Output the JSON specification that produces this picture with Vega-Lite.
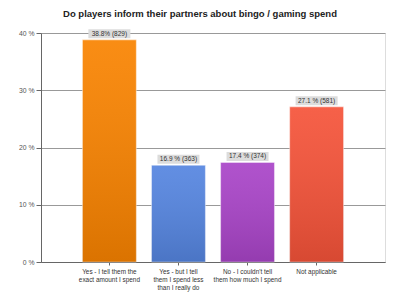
{
  "$schema": "https://vega.github.io/schema/vega-lite/v6.json",
  "width": 344,
  "height": 229,
  "autosize": {"type": "none"},
  "padding": {"left": 41, "top": 33, "right": 15, "bottom": 38},
  "background": "white",
  "title": {
    "text": "Do players inform their partners about bingo / gaming spend",
    "font": "Liberation Sans",
    "fontSize": 9.5,
    "fontWeight": "bold",
    "color": "#222222",
    "anchor": "middle",
    "dx": -13,
    "offset": 11
  },
  "data": {
    "values": [
      {"answer": "Yes - I tell them the|exact amount I spend", "pct": 38.8, "count": 829, "text": "38.8% (829)"},
      {"answer": "Yes - but I tell|them I spend less|than I really do", "pct": 16.9, "count": 363, "text": "16.9 % (363)"},
      {"answer": "No - I couldn't tell|them how much I spend", "pct": 17.4, "count": 374, "text": "17.4 % (374)"},
      {"answer": "Not applicable", "pct": 27.1, "count": 581, "text": "27.1 % (581)"}
    ]
  },
  "encoding": {
    "x": {
      "field": "answer",
      "type": "nominal",
      "sort": null,
      "scale": {"paddingInner": 0.22, "paddingOuter": 0.6},
      "axis": {
        "title": null,
        "labelAngle": 0,
        "labelExpr": "split(datum.label, '|')",
        "labelFont": "Liberation Sans",
        "labelFontSize": 6.4,
        "labelColor": "#333333",
        "labelLineHeight": 8,
        "labelPadding": 3,
        "tickSize": 3,
        "tickColor": "#666666",
        "domainColor": "#666666",
        "labelLimit": 200
      }
    },
    "y": {
      "field": "pct",
      "type": "quantitative",
      "scale": {"domain": [0, 40], "nice": false},
      "axis": {
        "title": null,
        "values": [0, 10, 20, 30, 40],
        "labelExpr": "datum.value + ' %'",
        "labelFont": "Liberation Sans",
        "labelFontSize": 6.8,
        "labelColor": "#555555",
        "tickSize": 5,
        "tickColor": "#666666",
        "domainColor": "#666666",
        "labelPadding": 2,
        "grid": true,
        "gridColor": "#999999",
        "gridWidth": 1
      }
    }
  },
  "layer": [
    {
      "mark": {"type": "bar", "stroke": "#ffffff", "strokeOpacity": 0.45, "strokeWidth": 1},
      "encoding": {
        "color": {
          "field": "answer",
          "type": "nominal",
          "sort": null,
          "scale": {"range": ["#f98300", "#5585e0", "#a944c8", "#f55339"]},
          "legend": null
        }
      }
    },
    {
      "mark": {
        "type": "bar",
        "fill": {
          "gradient": "linear",
          "x1": 0, "y1": 0, "x2": 0, "y2": 1,
          "stops": [
            {"offset": 0, "color": "rgba(255,255,255,0.08)"},
            {"offset": 1, "color": "rgba(0,0,0,0.12)"}
          ]
        }
      },
      "encoding": {}
    },
    {
      "mark": {"type": "tick", "orient": "horizontal", "color": "#dcdcdc", "opacity": 1, "size": 42, "thickness": 9, "yOffset": -6},
      "encoding": {}
    },
    {
      "mark": {"type": "text", "font": "Liberation Sans", "fontSize": 6.5, "color": "#333333", "dy": -6, "baseline": "middle"},
      "encoding": {"text": {"field": "text"}}
    }
  ]
}
